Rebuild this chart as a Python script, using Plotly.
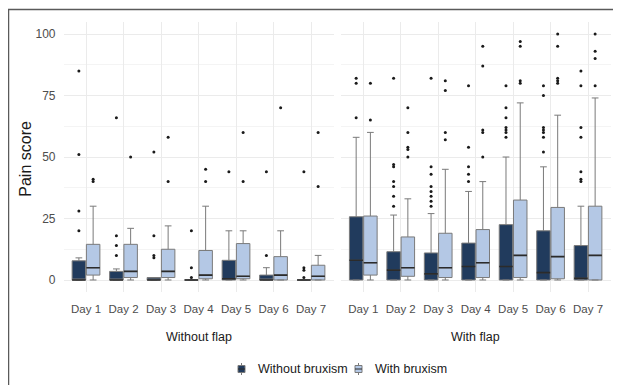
import plotly.graph_objects as go

# page body has an 8px margin: figure is sized/positioned to compensate
OX, OY = 8, 8
W, H = 621 - OX, 385 - OY

days = ["Day 1", "Day 2", "Day 3", "Day 4", "Day 5", "Day 6", "Day 7"]
facets = ["Without flap", "With flap"]
groups = ["Without bruxism", "With bruxism"]

# ---- Without flap ----
nf_nb_q1 = [0, 0, 0, 0, 0, 0, 0]
nf_nb_med = [0, 0, 0, 0, 0.5, 0, 0]
nf_nb_q3 = [7.8, 3.5, 1, 0, 8, 2, 0]
nf_nb_lo = [0, 0, 0, 0, 0, 0, 0]
nf_nb_hi = [9, 4.5, 1, 0, 20, 5, 0]
nf_nb_out = [[20, 28, 51, 85], [10, 14, 18, 66], [9, 10, 18, 52], [1, 5, 20],
             [44], [10, 44], [1, 4, 5, 44]]

nf_b_q1 = [2, 1, 1, 0.5, 0.5, 0, 0]
nf_b_med = [5, 3.5, 3.5, 2, 1.5, 2, 1.5]
nf_b_q3 = [14.5, 14.5, 12.5, 12, 14.8, 9.5, 6]
nf_b_lo = [0, 0, 0, 0, 0, 0, 0]
nf_b_hi = [30, 21, 22, 30, 20, 20, 10]
nf_b_out = [[40, 41], [50], [40, 58], [40, 45], [40, 60], [70], [38, 60]]

# ---- With flap ----
wf_nb_q1 = [0, 0, 0, 0, 0, 0, 0]
wf_nb_med = [8, 4, 2.5, 5.5, 5.5, 3, 0.7]
wf_nb_q3 = [25.7, 11.5, 11, 15, 22.5, 20, 14]
wf_nb_lo = [0, 0, 0, 0, 0, 0, 0]
wf_nb_hi = [58, 26.4, 27, 36, 50, 46, 30]
wf_nb_out = [[66, 80, 82], [30, 34, 38, 40, 46, 47, 82],
             [30, 32, 34, 36, 38, 43, 46, 82], [40, 43, 46, 54, 79],
             [58, 60, 61, 62, 66, 70, 79], [52, 58, 60, 61, 62, 75, 79],
             [40, 41, 44, 58, 62, 79, 85]]

wf_b_q1 = [2, 1.5, 1, 1, 1, 0.5, 0]
wf_b_med = [7, 5, 5, 7, 10, 9.5, 10]
wf_b_q3 = [26, 17.5, 19, 20.5, 32.5, 29.5, 30]
wf_b_lo = [0, 0, 0, 0, 0, 0, 0]
wf_b_hi = [60, 33, 45, 40, 72, 67, 74]
wf_b_out = [[65, 80], [50, 53, 54, 60, 70], [57, 60, 77, 81], [50, 60, 61, 87, 95],
            [80, 81, 95, 97], [80, 81, 82, 95, 100], [79, 90, 93, 100]]

y_ticks = [0, 25, 50, 75, 100]

DARK = "#213b5d"
LIGHT = "#b4c8e5"
LINE = "#7a7a7a"
MED = "#2b2b2b"
FONT = "Liberation Sans, Arial, sans-serif"

OFF = 0.19
BW = 0.36


def xp(px):
    return (px - OX) / W


def yp(py):
    return 1 - (py - OY) / H


fig = go.Figure()

series = [
    ("x", DARK, -OFF, nf_nb_q1, nf_nb_med, nf_nb_q3, nf_nb_lo, nf_nb_hi, nf_nb_out, groups[0]),
    ("x", LIGHT, OFF, nf_b_q1, nf_b_med, nf_b_q3, nf_b_lo, nf_b_hi, nf_b_out, groups[1]),
    ("x2", DARK, -OFF, wf_nb_q1, wf_nb_med, wf_nb_q3, wf_nb_lo, wf_nb_hi, wf_nb_out, groups[0]),
    ("x2", LIGHT, OFF, wf_b_q1, wf_b_med, wf_b_q3, wf_b_lo, wf_b_hi, wf_b_out, groups[1]),
]

for xa, col, off, q1, med, q3, lo, hi, outs, name in series:
    pos = [i + 1 + off for i in range(len(days))]
    fig.add_trace(go.Box(
        x=pos, q1=q1, median=med, q3=q3, lowerfence=lo, upperfence=hi,
        width=BW, whiskerwidth=0.5, fillcolor=col,
        line=dict(color=LINE, width=1), boxpoints=False,
        name=name, showlegend=False, hoverinfo="skip",
        xaxis=xa, yaxis="y",
    ))
    # thicker median segments (ggplot style)
    mx, my = [], []
    for p, m in zip(pos, med):
        mx += [p - BW / 2, p + BW / 2, None]
        my += [m, m, None]
    fig.add_trace(go.Scatter(
        x=mx, y=my, mode="lines", line=dict(color=MED, width=1.6),
        showlegend=False, hoverinfo="skip", xaxis=xa, yaxis="y",
    ))
    ox, oy = [], []
    for p, vals in zip(pos, outs):
        for v in vals:
            ox.append(p)
            oy.append(v)
    fig.add_trace(go.Scatter(
        x=ox, y=oy, mode="markers",
        marker=dict(color="#1a1a1a", size=3),
        showlegend=False, hoverinfo="skip",
        xaxis=xa, yaxis="y",
    ))

# panel geometry (screen px)
p1 = (63.5, 333.5)
p2 = (340.8, 610.5)
ytop, ybot = 21.7, 292.3

xcommon = dict(
    range=[0.4, 7.6], tickmode="array", tickvals=list(range(1, 8)), ticktext=days,
    showgrid=True, gridcolor="#ebebeb", gridwidth=1, zeroline=False, showline=False,
    ticks="", tickfont=dict(size=11.5, color="#4d4d4d", family=FONT),
    ticklabelstandoff=8, anchor="y", fixedrange=True,
)

fig.update_layout(
    width=W, height=H,
    margin=dict(l=0, r=0, t=0, b=0),
    paper_bgcolor="white", plot_bgcolor="white",
    font=dict(family=FONT, color="#1a1a1a"),
    xaxis=dict(domain=[xp(p1[0]), xp(p1[1])], **xcommon),
    xaxis2=dict(domain=[xp(p2[0]), xp(p2[1])], **xcommon),
    yaxis=dict(
        domain=[yp(ybot), yp(ytop)], range=[-5, 105],
        tickmode="array", tickvals=y_ticks, ticktext=[str(t) for t in y_ticks],
        showgrid=True, gridcolor="#ebebeb", gridwidth=1, zeroline=False, showline=False,
        ticks="", ticklabelstandoff=7,
        tickfont=dict(size=12, color="#4d4d4d", family=FONT),
        minor=dict(tickvals=[12.5, 37.5, 62.5, 87.5], showgrid=True,
                   gridcolor="#f4f4f4", gridwidth=1),
        anchor="x", fixedrange=True,
    ),
    showlegend=False,
)

fig.add_annotation(text="Pain score", x=xp(24.7), y=yp(159), xref="paper", yref="paper",
                   showarrow=False, textangle=-90, font=dict(size=16, family=FONT, color="#1a1a1a"),
                   xanchor="center", yanchor="middle")
for name, (a, b) in zip(facets, [p1, p2]):
    fig.add_annotation(text=name, x=xp((a + b) / 2), y=yp(336.5), xref="paper", yref="paper",
                       showarrow=False, font=dict(size=12.5, family=FONT, color="#1a1a1a"),
                       xanchor="center", yanchor="middle")

# manual legend (compact ggplot-like keys)
leg_y = 369
leg_items = [(groups[0], DARK, 241.5, 255.5), (groups[1], LIGHT, 358.5, 372.5)]
for name, col, kx, tx in leg_items:
    fig.add_shape(type="line", xref="paper", yref="paper",
                  x0=xp(kx), x1=xp(kx), y0=yp(leg_y - 6), y1=yp(leg_y + 6),
                  line=dict(color=LINE, width=1))
    fig.add_shape(type="rect", xref="paper", yref="paper",
                  x0=xp(kx - 3.5), x1=xp(kx + 3.5), y0=yp(leg_y - 3.5), y1=yp(leg_y + 3.5),
                  line=dict(color=LINE, width=1), fillcolor=col)
    fig.add_shape(type="line", xref="paper", yref="paper",
                  x0=xp(kx - 3.5), x1=xp(kx + 3.5), y0=yp(leg_y), y1=yp(leg_y),
                  line=dict(color=MED, width=1))
    fig.add_annotation(text=name, x=xp(tx), y=yp(leg_y), xref="paper", yref="paper",
                       showarrow=False, xanchor="left", yanchor="middle",
                       font=dict(size=12.5, family=FONT, color="#1a1a1a"))

# outer frame (top, left, right visible)
fig.add_shape(type="rect", xref="paper", yref="paper",
              x0=xp(8.5), x1=xp(617.5), y0=-0.2, y1=yp(9.5),
              line=dict(color="#5a5a5a", width=1.5), fillcolor="rgba(0,0,0,0)", layer="above")

fig.write_html("out.html")
